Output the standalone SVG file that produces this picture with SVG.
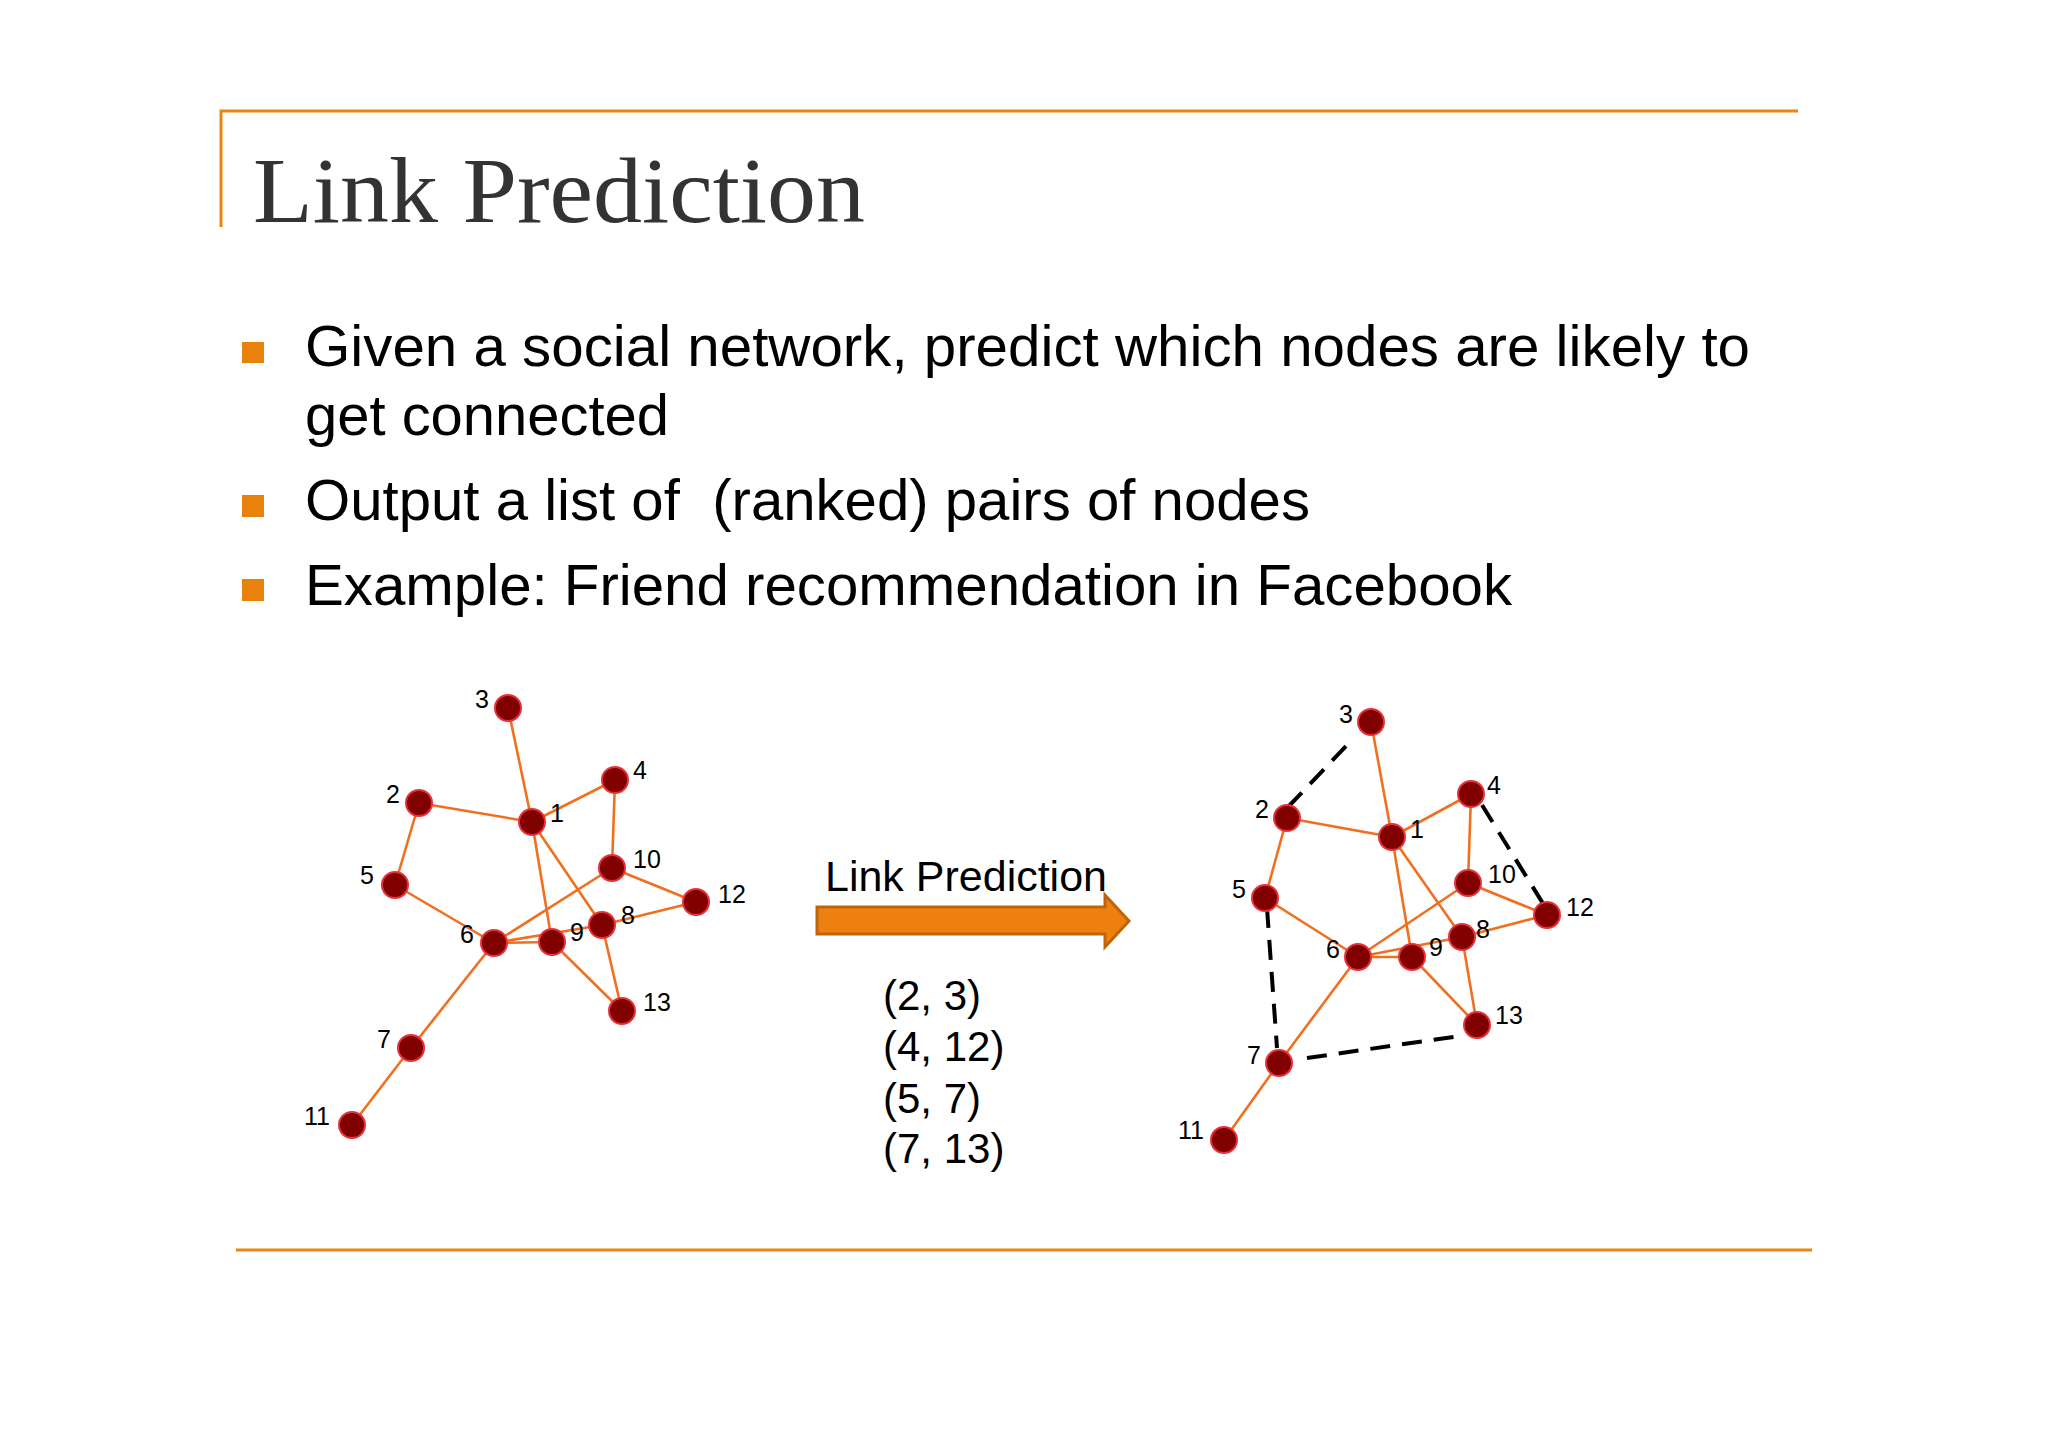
<svg xmlns="http://www.w3.org/2000/svg" width="2048" height="1448" viewBox="0 0 2048 1448">
<style>
.frame{stroke:#E8860F;stroke-width:3;fill:none}
.title{font-family:"Liberation Serif",serif;font-size:94px;fill:#333333}
.body{font-family:"Liberation Sans",Arial,sans-serif;font-size:57px;fill:#000}
.bullet{fill:#E8820C}
.e{stroke:#F07020;stroke-width:2.6;fill:none}
.d{stroke:#000;stroke-width:4;stroke-dasharray:20 12;fill:none}
.n{fill:#800000;stroke:#E8303A;stroke-width:2}
.lb{font-family:"Liberation Sans",Arial,sans-serif;font-size:25px;fill:#000;text-anchor:middle}
.mid{font-family:"Liberation Sans",Arial,sans-serif;font-size:42px;fill:#000}
</style>
<rect width="2048" height="1448" fill="#fff"/>
<g id="frame">
<path class="frame" d="M221 227 V111 H1798"/>
<line class="frame" x1="236" y1="1250" x2="1812" y2="1250"/>
</g>
<g id="title"><text class="title" x="253" y="222" textLength="612" lengthAdjust="spacingAndGlyphs">Link Prediction</text></g>
<g id="bullets">
<rect class="bullet" x="242" y="342" width="22" height="21"/>
<rect class="bullet" x="242" y="495" width="22" height="22"/>
<rect class="bullet" x="242" y="579" width="22" height="22"/>
<text class="body" x="305" y="366" textLength="1445" lengthAdjust="spacingAndGlyphs">Given a social network, predict which nodes are likely to</text>
<text class="body" x="305" y="435" textLength="364" lengthAdjust="spacingAndGlyphs">get connected</text>
<text class="body" x="305" y="520" textLength="1005" lengthAdjust="spacingAndGlyphs" xml:space="preserve">Output a list of  (ranked) pairs of nodes</text>
<text class="body" x="305" y="605" textLength="1207" lengthAdjust="spacingAndGlyphs">Example: Friend recommendation in Facebook</text>
</g>
<g id="connectors">
<g id="left-edges">
<line class="e" x1="532" y1="822" x2="508" y2="708"/>
<line class="e" x1="532" y1="822" x2="419" y2="803"/>
<line class="e" x1="532" y1="822" x2="615" y2="780"/>
<line class="e" x1="615" y1="780" x2="612" y2="868"/>
<line class="e" x1="532" y1="822" x2="552" y2="942"/>
<line class="e" x1="532" y1="822" x2="602" y2="925"/>
<line class="e" x1="419" y1="803" x2="395" y2="885"/>
<line class="e" x1="395" y1="885" x2="494" y2="943"/>
<line class="e" x1="494" y1="943" x2="612" y2="868"/>
<line class="e" x1="612" y1="868" x2="696" y2="902"/>
<line class="e" x1="602" y1="925" x2="696" y2="902"/>
<line class="e" x1="494" y1="943" x2="552" y2="942"/>
<line class="e" x1="494" y1="943" x2="602" y2="925"/>
<line class="e" x1="552" y1="942" x2="622" y2="1011"/>
<line class="e" x1="602" y1="925" x2="622" y2="1011"/>
<line class="e" x1="494" y1="943" x2="411" y2="1048"/>
<line class="e" x1="411" y1="1048" x2="352" y2="1125"/>
</g>
<g id="right-edges">
<line class="e" x1="1392" y1="837" x2="1371" y2="722"/>
<line class="e" x1="1392" y1="837" x2="1287" y2="818"/>
<line class="e" x1="1392" y1="837" x2="1471" y2="794"/>
<line class="e" x1="1471" y1="794" x2="1468" y2="883"/>
<line class="e" x1="1392" y1="837" x2="1412" y2="957"/>
<line class="e" x1="1392" y1="837" x2="1462" y2="937"/>
<line class="e" x1="1287" y1="818" x2="1265" y2="898"/>
<line class="e" x1="1265" y1="898" x2="1358" y2="957"/>
<line class="e" x1="1358" y1="957" x2="1468" y2="883"/>
<line class="e" x1="1468" y1="883" x2="1547" y2="915"/>
<line class="e" x1="1462" y1="937" x2="1547" y2="915"/>
<line class="e" x1="1358" y1="957" x2="1412" y2="957"/>
<line class="e" x1="1358" y1="957" x2="1462" y2="937"/>
<line class="e" x1="1412" y1="957" x2="1477" y2="1025"/>
<line class="e" x1="1462" y1="937" x2="1477" y2="1025"/>
<line class="e" x1="1358" y1="957" x2="1279" y2="1063"/>
<line class="e" x1="1279" y1="1063" x2="1224" y2="1140"/>
<line class="d" x1="1288" y1="807" x2="1350" y2="742"/>
<line class="d" x1="1482" y1="805" x2="1547" y2="910"/>
<line class="d" x1="1267" y1="908" x2="1277" y2="1048"/>
<line class="d" x1="1307" y1="1058" x2="1460" y2="1036"/>
</g>
<g id="arrow"><path d="M817 907 H1105 V895 L1129 921 L1105 947 V934 H817 Z" fill="#EE8010" stroke="#C0640A" stroke-width="3"/></g>
</g>
<g id="left-graph">
<g id="L1"><circle class="n" cx="532" cy="822" r="13"/><text class="lb" x="557" y="822">1</text></g>
<g id="L2"><circle class="n" cx="419" cy="803" r="13"/><text class="lb" x="393" y="803">2</text></g>
<g id="L3"><circle class="n" cx="508" cy="708" r="13"/><text class="lb" x="482" y="708">3</text></g>
<g id="L4"><circle class="n" cx="615" cy="780" r="13"/><text class="lb" x="640" y="779">4</text></g>
<g id="L5"><circle class="n" cx="395" cy="885" r="13"/><text class="lb" x="367" y="884">5</text></g>
<g id="L6"><circle class="n" cx="494" cy="943" r="13"/><text class="lb" x="467" y="943">6</text></g>
<g id="L7"><circle class="n" cx="411" cy="1048" r="13"/><text class="lb" x="384" y="1048">7</text></g>
<g id="L8"><circle class="n" cx="602" cy="925" r="13"/><text class="lb" x="628" y="924">8</text></g>
<g id="L9"><circle class="n" cx="552" cy="942" r="13"/><text class="lb" x="577" y="941">9</text></g>
<g id="L10"><circle class="n" cx="612" cy="868" r="13"/><text class="lb" x="647" y="868">10</text></g>
<g id="L11"><circle class="n" cx="352" cy="1125" r="13"/><text class="lb" x="317" y="1125">11</text></g>
<g id="L12"><circle class="n" cx="696" cy="902" r="13"/><text class="lb" x="732" y="903">12</text></g>
<g id="L13"><circle class="n" cx="622" cy="1011" r="13"/><text class="lb" x="657" y="1011">13</text></g>
</g>
<g id="middle">
<text class="mid" x="825" y="891" textLength="282" lengthAdjust="spacingAndGlyphs">Link Prediction</text>
<text class="mid" x="883" y="1010">(2, 3)</text>
<text class="mid" x="883" y="1061">(4, 12)</text>
<text class="mid" x="883" y="1113">(5, 7)</text>
<text class="mid" x="883" y="1163">(7, 13)</text>
</g>
<g id="right-graph">
<g id="R1"><circle class="n" cx="1392" cy="837" r="13"/><text class="lb" x="1417" y="838">1</text></g>
<g id="R2"><circle class="n" cx="1287" cy="818" r="13"/><text class="lb" x="1262" y="818">2</text></g>
<g id="R3"><circle class="n" cx="1371" cy="722" r="13"/><text class="lb" x="1346" y="723">3</text></g>
<g id="R4"><circle class="n" cx="1471" cy="794" r="13"/><text class="lb" x="1494" y="794">4</text></g>
<g id="R5"><circle class="n" cx="1265" cy="898" r="13"/><text class="lb" x="1239" y="898">5</text></g>
<g id="R6"><circle class="n" cx="1358" cy="957" r="13"/><text class="lb" x="1333" y="958">6</text></g>
<g id="R7"><circle class="n" cx="1279" cy="1063" r="13"/><text class="lb" x="1254" y="1064">7</text></g>
<g id="R8"><circle class="n" cx="1462" cy="937" r="13"/><text class="lb" x="1483" y="938">8</text></g>
<g id="R9"><circle class="n" cx="1412" cy="957" r="13"/><text class="lb" x="1436" y="956">9</text></g>
<g id="R10"><circle class="n" cx="1468" cy="883" r="13"/><text class="lb" x="1502" y="883">10</text></g>
<g id="R11"><circle class="n" cx="1224" cy="1140" r="13"/><text class="lb" x="1191" y="1139">11</text></g>
<g id="R12"><circle class="n" cx="1547" cy="915" r="13"/><text class="lb" x="1580" y="916">12</text></g>
<g id="R13"><circle class="n" cx="1477" cy="1025" r="13"/><text class="lb" x="1509" y="1024">13</text></g>
</g>
</svg>
